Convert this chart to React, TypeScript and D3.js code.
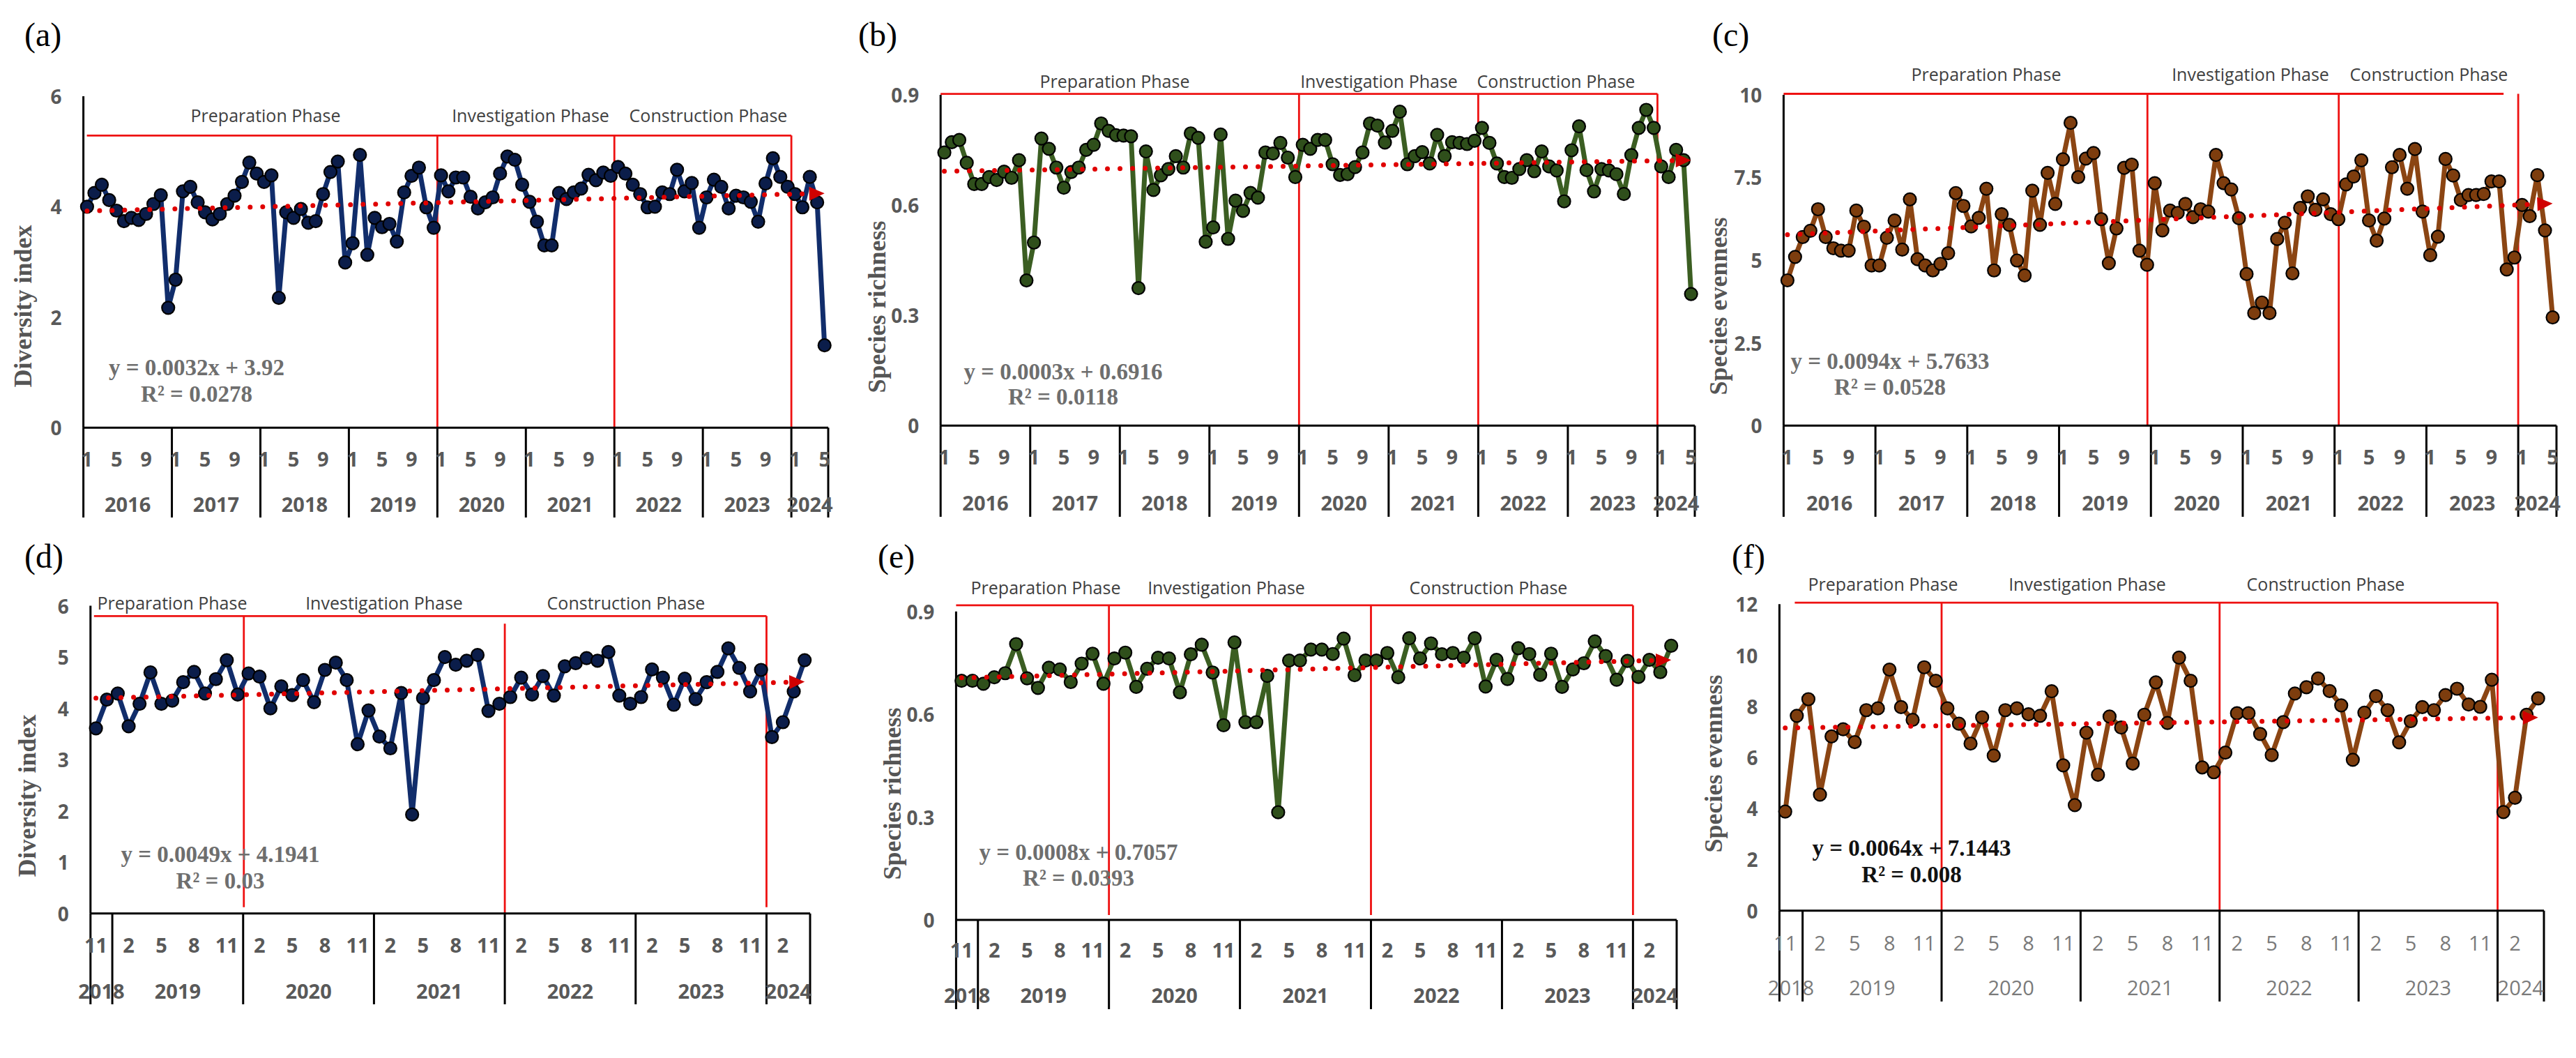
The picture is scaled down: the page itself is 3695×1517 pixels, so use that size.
import React from 'react';
import * as d3 from 'd3';

// ---------------- categories / tick labels ----------------
const topYearLabels = ['2016', '2017', '2018', '2019', '2020', '2021', '2022', '2023', '2024'];
const topYearMonthCounts = [12, 12, 12, 12, 12, 12, 12, 12, 5];
const topYearFirstMonth = [1, 1, 1, 1, 1, 1, 1, 1, 1];
const topMonthTicks = [1, 5, 9];

const bottomYearLabels = ['2018', '2019', '2020', '2021', '2022', '2023', '2024'];
const bottomYearMonthCounts = [2, 12, 12, 12, 12, 12, 4];
const bottomYearFirstMonth = [11, 1, 1, 1, 1, 1, 1];
const bottomMonthTicks = [2, 5, 8, 11];

const phaseNames = ['Preparation Phase', 'Investigation Phase', 'Construction Phase'];
const topPhaseBounds = [0, 48, 72, 96];
const bottomPhaseBounds = [0, 14, 38, 62];

// ---------------- series values ----------------
const diversityTop = [
  4.0, 4.25, 4.4, 4.12, 3.93, 3.74, 3.8, 3.76, 3.87, 4.05, 4.21, 2.17,
  2.68, 4.28, 4.36, 4.08, 3.9, 3.77, 3.87, 4.05, 4.2, 4.45, 4.8, 4.6,
  4.45, 4.57, 2.35, 3.9, 3.8, 3.96, 3.71, 3.74, 4.23, 4.63, 4.82, 2.99,
  3.34, 4.94, 3.13, 3.8, 3.63, 3.69, 3.37, 4.26, 4.56, 4.71, 3.99, 3.62,
  4.57, 4.28, 4.53, 4.53, 4.18, 3.97, 4.08, 4.17, 4.6, 4.91, 4.85, 4.4,
  4.09, 3.73, 3.3, 3.3, 4.25, 4.14, 4.26, 4.33, 4.58, 4.48, 4.62, 4.56,
  4.72, 4.6, 4.4, 4.23, 3.99, 4.0, 4.26, 4.23, 4.67, 4.28, 4.43, 3.62,
  4.17, 4.49, 4.36, 3.97, 4.2, 4.17, 4.09, 3.73, 4.42, 4.88, 4.54, 4.36,
  4.23, 3.99, 4.54, 4.08, 1.49,
];
const richnessTop = [
  0.743, 0.771, 0.777, 0.715, 0.657, 0.657, 0.676, 0.668, 0.691, 0.674, 0.722, 0.395,
  0.498, 0.781, 0.753, 0.702, 0.647, 0.69, 0.702, 0.75, 0.764, 0.822, 0.802, 0.79,
  0.789, 0.787, 0.374, 0.746, 0.641, 0.681, 0.698, 0.733, 0.702, 0.795, 0.783, 0.5,
  0.539, 0.792, 0.508, 0.612, 0.584, 0.633, 0.62, 0.743, 0.74, 0.769, 0.729, 0.676,
  0.764, 0.753, 0.777, 0.777, 0.711, 0.682, 0.684, 0.703, 0.743, 0.822, 0.816, 0.77,
  0.802, 0.854, 0.711, 0.733, 0.744, 0.713, 0.791, 0.733, 0.771, 0.769, 0.766, 0.775,
  0.81, 0.769, 0.713, 0.676, 0.674, 0.698, 0.722, 0.692, 0.746, 0.705, 0.694, 0.61,
  0.749, 0.814, 0.695, 0.637, 0.698, 0.694, 0.684, 0.63, 0.736, 0.81, 0.859, 0.81,
  0.705, 0.676, 0.75, 0.722, 0.358,
];
const evennessTop = [
  4.39, 5.1, 5.7, 5.89, 6.54, 5.7, 5.36, 5.29, 5.29, 6.5, 6.01, 4.84,
  4.84, 5.68, 6.2, 5.32, 6.84, 5.03, 4.84, 4.69, 4.89, 5.21, 7.03, 6.64,
  6.02, 6.28, 7.16, 4.69, 6.39, 6.07, 4.99, 4.54, 7.1, 6.07, 7.64, 6.7,
  8.05, 9.15, 7.51, 8.07, 8.24, 6.24, 4.91, 5.96, 7.79, 7.89, 5.29, 4.86,
  7.33, 5.9, 6.5, 6.43, 6.7, 6.3, 6.54, 6.47, 8.18, 7.33, 7.14, 6.27,
  4.58, 3.4, 3.72, 3.4, 5.64, 6.13, 4.6, 6.58, 6.93, 6.52, 6.84, 6.39,
  6.24, 7.29, 7.53, 8.02, 6.2, 5.59, 6.26, 7.81, 8.18, 7.16, 8.36, 6.47,
  5.15, 5.71, 8.06, 7.56, 6.82, 6.97, 6.97, 7.0, 7.38, 7.38, 4.72, 5.08,
  6.67, 6.33, 7.57, 5.9, 3.27,
];
const diversityBottom = [
  3.61, 4.17,
  4.29, 3.65, 4.09, 4.7, 4.09, 4.15, 4.51, 4.71, 4.29, 4.57, 4.94, 4.27,
  4.68, 4.62, 4.0, 4.43, 4.26, 4.55, 4.12, 4.75, 4.89, 4.55, 3.3, 3.96,
  3.45, 3.22, 4.3, 1.93, 4.2, 4.55, 5.0, 4.85, 4.93, 5.04, 3.95, 4.09,
  4.22, 4.6, 4.27, 4.63, 4.25, 4.82, 4.88, 4.98, 4.93, 5.1, 4.25, 4.09,
  4.22, 4.76, 4.6, 4.07, 4.58, 4.18, 4.51, 4.71, 5.17, 4.79, 4.33, 4.75,
  3.44, 3.73, 4.33, 4.94,
];
const richnessBottom = [
  0.698, 0.698,
  0.689, 0.708, 0.72, 0.805, 0.705, 0.677, 0.736, 0.731, 0.694, 0.748, 0.777, 0.689,
  0.763, 0.78, 0.68, 0.733, 0.765, 0.763, 0.664, 0.775, 0.803, 0.722, 0.568, 0.81,
  0.577, 0.577, 0.712, 0.314, 0.757, 0.757, 0.789, 0.789, 0.776, 0.821, 0.714, 0.757,
  0.757, 0.779, 0.708, 0.822, 0.763, 0.807, 0.775, 0.779, 0.765, 0.822, 0.681, 0.759,
  0.703, 0.793, 0.776, 0.715, 0.777, 0.68, 0.731, 0.749, 0.813, 0.77, 0.701, 0.756,
  0.709, 0.759, 0.723, 0.8,
];
const evennessBottom = [
  3.88, 7.63,
  8.28, 4.54, 6.82, 7.1, 6.6, 7.85, 7.92, 9.44, 7.97, 7.47, 9.53, 9.0,
  7.92, 7.32, 6.54, 7.57, 6.07, 7.85, 7.92, 7.69, 7.63, 8.59, 5.69, 4.13,
  6.97, 5.32, 7.6, 7.17, 5.76, 7.67, 8.94, 7.35, 9.91, 9.0, 5.61, 5.42,
  6.19, 7.73, 7.73, 6.92, 6.09, 7.38, 8.5, 8.75, 9.09, 8.6, 8.04, 5.91,
  7.75, 8.4, 7.85, 6.59, 7.42, 7.97, 7.85, 8.44, 8.69, 8.07, 7.98, 9.04,
  3.86, 4.42, 7.67, 8.31,
];

// trendline coefficients and labels
const trendSlopes = [0.0032, 0.0003, 0.0094, 0.0049, 0.0008, 0.0064];
const trendIntercepts = [3.92, 0.6916, 5.7633, 4.1941, 0.7057, 7.1443];
const trendEquations = [
  'y = 0.0032x + 3.92', 'y = 0.0003x + 0.6916', 'y = 0.0094x + 5.7633',
  'y = 0.0049x + 4.1941', 'y = 0.0008x + 0.7057', 'y = 0.0064x + 7.1443',
];
const trendR2 = ['R² = 0.0278', 'R² = 0.0118', 'R² = 0.0528', 'R² = 0.03', 'R² = 0.0393', 'R² = 0.008'];

const yTicksDiversityTop = [0, 2, 4, 6];
const yTicksRichness = [0, 0.3, 0.6, 0.9];
const yTicksEvennessTop = [0, 2.5, 5, 7.5, 10];
const yTicksDiversityBottom = [0, 1, 2, 3, 4, 5, 6];
const yTicksEvennessBottom = [0, 2, 4, 6, 8, 10, 12];

// ---------------- helpers ----------------
type Cat = { yearIdx: number; month: number };
function buildCats(counts: number[], firsts: number[]): Cat[] {
  const out: Cat[] = [];
  counts.forEach((c, yi) => {
    for (let k = 0; k < c; k++) out.push({ yearIdx: yi, month: firsts[yi] + k });
  });
  return out;
}
const topCats = buildCats(topYearMonthCounts, topYearFirstMonth);
const bottomCats = buildCats(bottomYearMonthCounts, bottomYearFirstMonth);

const NAVY = { line: '#112d6b', fill: '#0b1d4a' };
const GREEN = { line: '#3b5e22', fill: '#2f4f1b' };
const BROWN = { line: '#8b4513', fill: '#7d3d0e' };

type Cfg = {
  letter: string; letterX: number; letterY: number;
  values: number[]; cats: Cat[]; yearLabels: string[]; yearCounts: number[]; monthTicks: number[];
  yMax: number; ticks: number[]; fmt: (v: number) => string;
  x0: number; x1: number; yTopPx: number; y0Px: number;
  color: { line: string; fill: string };
  title: string; titleX: number; titleY: number;
  ti: number; eqX: number; eqY1: number; eqY2: number; eqColor: string;
  phaseBounds: number[]; phaseLevel: number; phaseLabelY: number; phaseLabelX: number[];
  hStartOff: number; hEndOff: number; vOffs: number[]; vTopOffs: number[]; vBotOffs: number[];
  monthY: number; yearY: number; sepBottom: number; catWeight: number; catColor: string;
};

const SANS = "'Open Sans', 'DejaVu Sans', sans-serif";
const SERIF = "'Liberation Serif', 'Times New Roman', serif";

function Panel({ c }: { c: Cfg }) {
  const N = c.values.length;
  const xb = d3.scaleBand<number>().domain(d3.range(N)).range([c.x0, c.x1]).paddingInner(0).paddingOuter(0);
  const step = xb.step();
  const xc = (i: number) => (xb(i) as number) + xb.bandwidth() / 2;
  const bnd = (k: number) => c.x0 + k * step;
  const y = d3.scaleLinear().domain([0, c.yMax]).range([c.y0Px, c.yTopPx]);
  const line = d3.line<number>().x((_, i) => xc(i)).y((d) => y(d));

  const yearStarts: number[] = [];
  let acc = 0;
  c.yearCounts.forEach((n) => { yearStarts.push(acc); acc += n; });
  yearStarts.push(acc);

  const slope = trendSlopes[c.ti], icpt = trendIntercepts[c.ti];
  const tv = (i: number) => slope * (i + 1) + icpt;
  const tx0 = xc(0), ty0 = y(tv(0)), tx1 = xc(N - 1), ty1 = y(tv(N - 1));
  const ang = Math.atan2(ty1 - ty0, tx1 - tx0);
  const aLen = 22, aHalf = 10;
  const bx = tx1 - aLen * Math.cos(ang), by = ty1 - aLen * Math.sin(ang);
  const arrow = `M${tx1},${ty1}L${bx - aHalf * Math.sin(ang)},${by + aHalf * Math.cos(ang)}L${bx + aHalf * Math.sin(ang)},${by - aHalf * Math.cos(ang)}Z`;

  const py = y(c.phaseLevel);
  const hStart = c.x0 + c.hStartOff;
  const hEnd = bnd(c.phaseBounds[3]) + c.hEndOff;

  return (
    <g>
      <text x={c.letterX} y={c.letterY} fontFamily={SERIF} fontSize={48} fill="#000">{c.letter}</text>
      {c.ticks.map((t) => (
        <text key={t} x={c.x0 - 31} y={y(t)} textAnchor="end" dominantBaseline="central"
          fontFamily={SANS} fontWeight={700} fontSize={28} fill="#595959">{c.fmt(t)}</text>
      ))}
      <text transform={`translate(${c.titleX},${c.titleY}) rotate(-90)`} textAnchor="middle" dominantBaseline="central"
        fontFamily={SERIF} fontWeight={700} fontSize={36} fill="#555">{c.title}</text>
      <g stroke="#ee1111" strokeWidth={2.8} fill="none">
        <line x1={hStart} x2={hEnd} y1={py} y2={py} />
        {[1, 2, 3].map((k, j) => (
          <line key={k} x1={bnd(c.phaseBounds[k]) + c.vOffs[j]} x2={bnd(c.phaseBounds[k]) + c.vOffs[j]}
            y1={py + c.vTopOffs[j]} y2={c.y0Px + c.vBotOffs[j]} />
        ))}
      </g>
      {phaseNames.map((p, j) => (
        <text key={p} x={c.phaseLabelX[j]} y={c.phaseLabelY} textAnchor="middle" dominantBaseline="central"
          fontFamily={SANS} fontSize={25} fill="#404040">{p}</text>
      ))}
      <g stroke="#000" strokeWidth={3}>
        <line x1={c.x0} x2={c.x0} y1={c.yTopPx} y2={c.y0Px} />
        <line x1={c.x0} x2={c.x1} y1={c.y0Px} y2={c.y0Px} />
        {yearStarts.map((k) => (
          <line key={k} x1={bnd(k)} x2={bnd(k)} y1={c.y0Px} y2={c.sepBottom} />
        ))}
      </g>
      {c.cats.map((cat, i) => c.monthTicks.includes(cat.month) ? (
        <text key={i} x={xc(i)} y={c.monthY} textAnchor="middle" dominantBaseline="central"
          fontFamily={SANS} fontWeight={c.catWeight} fontSize={29} fill={c.catColor}>{cat.month}</text>
      ) : null)}
      {c.yearLabels.map((yl, j) => (
        <text key={yl} x={(bnd(yearStarts[j]) + bnd(yearStarts[j + 1])) / 2} y={c.yearY} textAnchor="middle"
          dominantBaseline="central" fontFamily={SANS} fontWeight={c.catWeight} fontSize={29} fill={c.catColor}>{yl}</text>
      ))}
      <path d={line(c.values) || ''} fill="none" stroke={c.color.line} strokeWidth={7} strokeLinejoin="round" />
      {c.values.map((v, i) => (
        <circle key={i} cx={xc(i)} cy={y(v)} r={9} fill={c.color.fill} stroke="#000" strokeWidth={2.2} />
      ))}
      <line x1={tx0} y1={ty0} x2={bx} y2={by} stroke="#e00000" strokeWidth={7} strokeDasharray="0 18" strokeLinecap="round" />
      <path d={arrow} fill="#d00000" />
      <text x={c.eqX} y={c.eqY1} textAnchor="middle" dominantBaseline="central" fontFamily={SERIF} fontWeight={700}
        fontSize={33} fill={c.eqColor}>{trendEquations[c.ti]}</text>
      <text x={c.eqX} y={c.eqY2} textAnchor="middle" dominantBaseline="central" fontFamily={SERIF} fontWeight={700}
        fontSize={33} fill={c.eqColor}>{trendR2[c.ti]}</text>
    </g>
  );
}

const fmtInt = (v: number) => String(v);
const fmtOne = (v: number) => (v === 0 ? '0' : d3.format('.1f')(v));

const topCommon = {
  cats: topCats, yearLabels: topYearLabels, yearCounts: topYearMonthCounts, monthTicks: topMonthTicks,
  phaseBounds: topPhaseBounds, catWeight: 700, catColor: '#595959', eqColor: '#6e6e6e',
};
const bottomCommon = {
  cats: bottomCats, yearLabels: bottomYearLabels, yearCounts: bottomYearMonthCounts, monthTicks: bottomMonthTicks,
  phaseBounds: bottomPhaseBounds, catWeight: 700, catColor: '#595959', eqColor: '#6e6e6e',
};

const panels: Cfg[] = [
  {
    ...topCommon, letter: '(a)', letterX: 35, letterY: 66, values: diversityTop, yMax: 6, ticks: yTicksDiversityTop, fmt: fmtInt,
    x0: 119.6, x1: 1188, yTopPx: 138.1, y0Px: 613.2, color: NAVY, title: 'Diversity index', titleX: 33, titleY: 439,
    ti: 0, eqX: 282, eqY1: 527, eqY2: 565, phaseLevel: 5.29, phaseLabelY: 165, phaseLabelX: [381, 761, 1016],
    hStartOff: 5, hEndOff: 0, vOffs: [0, 0, 0], vTopOffs: [0, 0, 0], vBotOffs: [0, 0, 0],
    monthY: 657, yearY: 722, sepBottom: 742,
  },
  {
    ...topCommon, letter: '(b)', letterX: 1231, letterY: 66, values: richnessTop, yMax: 0.9, ticks: yTicksRichness, fmt: fmtOne,
    x0: 1349.2, x1: 2431, yTopPx: 135.9, y0Px: 610.2, color: GREEN, title: 'Species richness', titleX: 1258, titleY: 440,
    ti: 1, eqX: 1525, eqY1: 533, eqY2: 569, phaseLevel: 0.9025, phaseLabelY: 116, phaseLabelX: [1599, 1978, 2232],
    hStartOff: 0, hEndOff: 0, vOffs: [0, 0, 0], vTopOffs: [0, 0, 0], vBotOffs: [0, 0, 0],
    monthY: 654, yearY: 720, sepBottom: 741,
  },
  {
    ...topCommon, letter: '(c)', letterX: 2456, letterY: 66, values: evennessTop, yMax: 10, ticks: yTicksEvennessTop, fmt: fmtInt,
    x0: 2558.4, x1: 3667, yTopPx: 135.9, y0Px: 610.2, color: BROWN, title: 'Species evenness', titleX: 2465, titleY: 439,
    ti: 2, eqX: 2711, eqY1: 518, eqY2: 555, phaseLevel: 10.03, phaseLabelY: 106, phaseLabelX: [2849, 3228, 3484],
    hStartOff: 0, hEndOff: -21, vOffs: [-5, 6, 0], vTopOffs: [0, 0, 0], vBotOffs: [0, 0, 0],
    monthY: 654, yearY: 720, sepBottom: 741,
  },
  {
    ...bottomCommon, letter: '(d)', letterX: 35, letterY: 814, values: diversityBottom, yMax: 6, ticks: yTicksDiversityBottom, fmt: fmtInt,
    x0: 129.8, x1: 1162, yTopPx: 868.6, y0Px: 1309.8, color: NAVY, title: 'Diversity index', titleX: 39, titleY: 1141,
    ti: 3, eqX: 316, eqY1: 1225, eqY2: 1263, phaseLevel: 5.8, phaseLabelY: 864, phaseLabelX: [247, 551, 898],
    hStartOff: 5, hEndOff: 0, vOffs: [1, 0, 0], vTopOffs: [0, 11, 0], vBotOffs: [-9, 0, -9],
    monthY: 1354, yearY: 1420, sepBottom: 1440,
  },
  {
    ...bottomCommon, letter: '(e)', letterX: 1259, letterY: 814, values: richnessBottom, yMax: 0.9, ticks: yTicksRichness, fmt: fmtOne,
    x0: 1371.4, x1: 2405, yTopPx: 876.8, y0Px: 1319, color: GREEN, title: 'Species richness', titleX: 1280, titleY: 1138,
    ti: 4, eqX: 1547, eqY1: 1222, eqY2: 1259, phaseLevel: 0.918, phaseLabelY: 842, phaseLabelX: [1500, 1759, 2135],
    hStartOff: 0, hEndOff: 0, vOffs: [0, 0, 0], vTopOffs: [0, 0, 0], vBotOffs: [-7, -7, -7],
    monthY: 1361, yearY: 1426, sepBottom: 1447,
  },
  {
    ...bottomCommon, letter: '(f)', letterX: 2484, letterY: 814, values: evennessBottom, yMax: 12, ticks: yTicksEvennessBottom, fmt: fmtInt,
    x0: 2552.4, x1: 3649, yTopPx: 866.3, y0Px: 1305.7, color: BROWN, title: 'Species evenness', titleX: 2458, titleY: 1095,
    ti: 5, eqX: 2742, eqY1: 1216, eqY2: 1254, eqColor: '#111', phaseLevel: 12.06, phaseLabelY: 837, phaseLabelX: [2701, 2994, 3336],
    hStartOff: 22, hEndOff: 0, vOffs: [0, 0, 0], vTopOffs: [0, 0, 0], vBotOffs: [0, 0, 0],
    monthY: 1351, yearY: 1415, sepBottom: 1436, catWeight: 400, catColor: '#7a7a7a',
  },
];

export default function App() {
  return (
    <svg width={3695} height={1517} viewBox="0 0 3695 1517"
      style={{ position: 'absolute', left: 0, top: 0, background: '#fff', display: 'block' }}>
      <rect x={0} y={0} width={3695} height={1517} fill="#fff" />
      {panels.map((p) => <Panel key={p.letter} c={p} />)}
    </svg>
  );
}
